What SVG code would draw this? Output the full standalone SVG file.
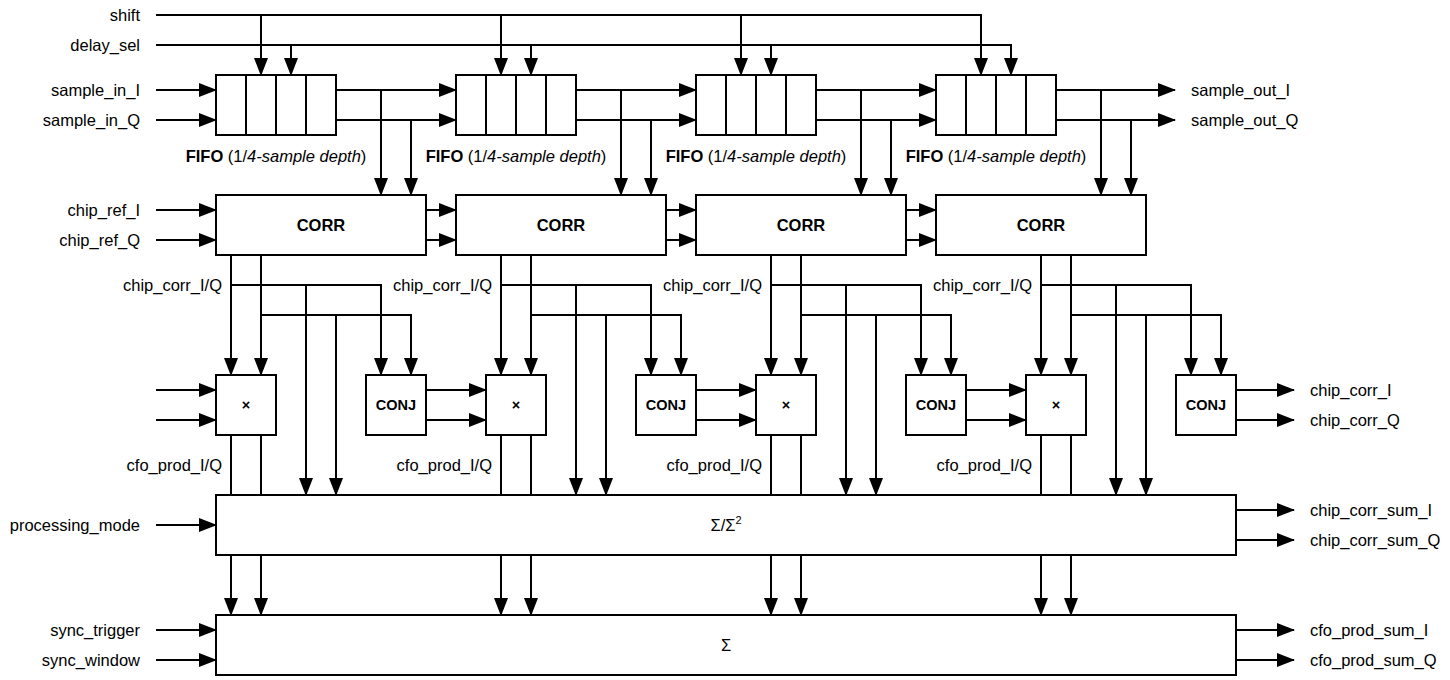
<svg xmlns="http://www.w3.org/2000/svg" width="1450" height="680" viewBox="0 0 1450 680">
<style>
.b{fill:#fff;stroke:#000;stroke-width:2}
.d{stroke:#000;stroke-width:2;fill:none}
.w{stroke:#000;stroke-width:2;fill:none}
.a{marker-end:url(#ah)}
text{font-family:"Liberation Sans",Arial,Helvetica,sans-serif;font-size:16.5px;fill:#000}
.l{text-anchor:end}
.c{text-anchor:middle}
.bd{font-weight:bold}
.sm{font-size:14.5px}
</style>
<defs>
<marker id="ah" viewBox="0 0 18 14" refX="17" refY="7" markerWidth="18" markerHeight="14" markerUnits="userSpaceOnUse" orient="auto"><path d="M0,0 L18,7 L0,14 z" fill="#000"/></marker>
</defs>
<rect width="1450" height="680" fill="#fff"/>

<g id="connectors">
<!-- shift / delay_sel -->
<path class="w a" d="M156,15 H981 V75"/>
<path class="w a" d="M261,15 V75"/><path class="w a" d="M501,15 V75"/><path class="w a" d="M741,15 V75"/>
<path class="w a" d="M156,45 H1011 V75"/>
<path class="w a" d="M291,45 V75"/><path class="w a" d="M531,45 V75"/><path class="w a" d="M771,45 V75"/>
<!-- sample inputs -->
<path class="w a" d="M156,90 H216"/><path class="w a" d="M156,120 H216"/>
<!-- FIFO outputs -->
<path class="w a" d="M336,90 H456"/><path class="w a" d="M336,120 H456"/><path class="w a" d="M381,90 V195"/><path class="w a" d="M411,120 V195"/>
<path class="w a" d="M576,90 H696"/><path class="w a" d="M576,120 H696"/><path class="w a" d="M621,90 V195"/><path class="w a" d="M651,120 V195"/>
<path class="w a" d="M816,90 H936"/><path class="w a" d="M816,120 H936"/><path class="w a" d="M861,90 V195"/><path class="w a" d="M891,120 V195"/>
<path class="w a" d="M1056,90 H1175"/><path class="w a" d="M1056,120 H1175"/><path class="w a" d="M1101,90 V195"/><path class="w a" d="M1131,120 V195"/>
<!-- chip_ref inputs -->
<path class="w a" d="M156,210 H216"/><path class="w a" d="M156,240 H216"/>
<!-- CORR chain -->
<path class="w a" d="M426,210 H456"/><path class="w a" d="M426,240 H456"/>
<path class="w a" d="M666,210 H696"/><path class="w a" d="M666,240 H696"/>
<path class="w a" d="M906,210 H936"/><path class="w a" d="M906,240 H936"/>
<!-- column 1 X=216 -->
<path class="w a" d="M231,255 V375"/><path class="w a" d="M261,255 V375"/>
<path class="w a" d="M231,285 H381 V375"/><path class="w a" d="M261,315 H411 V375"/>
<path class="w a" d="M306,285 V495"/><path class="w a" d="M336,315 V495"/>
<path class="w" d="M231,435 V495"/><path class="w" d="M261,435 V495"/>
<path class="w a" d="M426,390 H486"/><path class="w a" d="M426,420 H486"/>
<!-- column 2 X=486 -->
<path class="w a" d="M501,255 V375"/><path class="w a" d="M531,255 V375"/>
<path class="w a" d="M501,285 H651 V375"/><path class="w a" d="M531,315 H681 V375"/>
<path class="w a" d="M576,285 V495"/><path class="w a" d="M606,315 V495"/>
<path class="w" d="M501,435 V495"/><path class="w" d="M531,435 V495"/>
<path class="w a" d="M696,390 H756"/><path class="w a" d="M696,420 H756"/>
<!-- column 3 X=756 -->
<path class="w a" d="M771,255 V375"/><path class="w a" d="M801,255 V375"/>
<path class="w a" d="M771,285 H921 V375"/><path class="w a" d="M801,315 H951 V375"/>
<path class="w a" d="M846,285 V495"/><path class="w a" d="M876,315 V495"/>
<path class="w" d="M771,435 V495"/><path class="w" d="M801,435 V495"/>
<path class="w a" d="M966,390 H1026"/><path class="w a" d="M966,420 H1026"/>
<!-- column 4 X=1026 -->
<path class="w a" d="M1041,255 V375"/><path class="w a" d="M1071,255 V375"/>
<path class="w a" d="M1041,285 H1191 V375"/><path class="w a" d="M1071,315 H1221 V375"/>
<path class="w a" d="M1116,285 V495"/><path class="w a" d="M1146,315 V495"/>
<path class="w" d="M1041,435 V495"/><path class="w" d="M1071,435 V495"/>
<path class="w a" d="M1236,390 H1294"/><path class="w a" d="M1236,420 H1294"/>
<!-- first multiplier inputs -->
<path class="w a" d="M156,390 H216"/><path class="w a" d="M156,420 H216"/>
<!-- sum/sum^2 -->
<path class="w a" d="M156,525 H216"/>
<path class="w a" d="M1236,510 H1294"/><path class="w a" d="M1236,540 H1294"/>
<path class="w a" d="M231,555 V615"/><path class="w a" d="M261,555 V615"/>
<path class="w a" d="M501,555 V615"/><path class="w a" d="M531,555 V615"/>
<path class="w a" d="M771,555 V615"/><path class="w a" d="M801,555 V615"/>
<path class="w a" d="M1041,555 V615"/><path class="w a" d="M1071,555 V615"/>
<!-- sum -->
<path class="w a" d="M156,630 H216"/><path class="w a" d="M156,660 H216"/>
<path class="w a" d="M1236,630 H1294"/><path class="w a" d="M1236,660 H1294"/>
</g>

<g id="fifo1"><rect class="b" x="216" y="75" width="120" height="60"/><path class="d" d="M246,75 V135 M276,75 V135 M306,75 V135"/>
<text class="c" x="276" y="162"><tspan class="bd">FIFO</tspan> (1/<tspan font-style="italic">4-sample depth</tspan>)</text></g>
<g id="fifo2"><rect class="b" x="456" y="75" width="120" height="60"/><path class="d" d="M486,75 V135 M516,75 V135 M546,75 V135"/>
<text class="c" x="516" y="162"><tspan class="bd">FIFO</tspan> (1/<tspan font-style="italic">4-sample depth</tspan>)</text></g>
<g id="fifo3"><rect class="b" x="696" y="75" width="120" height="60"/><path class="d" d="M726,75 V135 M756,75 V135 M786,75 V135"/>
<text class="c" x="756" y="162"><tspan class="bd">FIFO</tspan> (1/<tspan font-style="italic">4-sample depth</tspan>)</text></g>
<g id="fifo4"><rect class="b" x="936" y="75" width="120" height="60"/><path class="d" d="M966,75 V135 M996,75 V135 M1026,75 V135"/>
<text class="c" x="996" y="162"><tspan class="bd">FIFO</tspan> (1/<tspan font-style="italic">4-sample depth</tspan>)</text></g>

<g id="corr1"><rect class="b" x="216" y="195" width="210" height="60"/><text class="c bd" x="321" y="231">CORR</text></g>
<g id="corr2"><rect class="b" x="456" y="195" width="210" height="60"/><text class="c bd" x="561" y="231">CORR</text></g>
<g id="corr3"><rect class="b" x="696" y="195" width="210" height="60"/><text class="c bd" x="801" y="231">CORR</text></g>
<g id="corr4"><rect class="b" x="936" y="195" width="210" height="60"/><text class="c bd" x="1041" y="231">CORR</text></g>

<g id="mul1"><rect class="b" x="216" y="375" width="60" height="60"/><text class="c bd sm" x="246" y="410">×</text></g>
<g id="mul2"><rect class="b" x="486" y="375" width="60" height="60"/><text class="c bd sm" x="516" y="410">×</text></g>
<g id="mul3"><rect class="b" x="756" y="375" width="60" height="60"/><text class="c bd sm" x="786" y="410">×</text></g>
<g id="mul4"><rect class="b" x="1026" y="375" width="60" height="60"/><text class="c bd sm" x="1056" y="410">×</text></g>

<g id="conj1"><rect class="b" x="366" y="375" width="60" height="60"/><text class="c bd sm" x="396" y="410">CONJ</text></g>
<g id="conj2"><rect class="b" x="636" y="375" width="60" height="60"/><text class="c bd sm" x="666" y="410">CONJ</text></g>
<g id="conj3"><rect class="b" x="906" y="375" width="60" height="60"/><text class="c bd sm" x="936" y="410">CONJ</text></g>
<g id="conj4"><rect class="b" x="1176" y="375" width="60" height="60"/><text class="c bd sm" x="1206" y="410">CONJ</text></g>

<g id="sumsq"><rect class="b" x="216" y="495" width="1020" height="60"/><text class="c" x="726" y="531">Σ/Σ<tspan font-size="11" dy="-7">2</tspan></text></g>
<g id="sum"><rect class="b" x="216" y="615" width="1020" height="60"/><text class="c" x="726" y="651">Σ</text></g>

<g id="labels">
<text class="l" x="140" y="21">shift</text>
<text class="l" x="140" y="51">delay_sel</text>
<text class="l" x="140" y="96">sample_in_I</text>
<text class="l" x="140" y="126">sample_in_Q</text>
<text class="l" x="140" y="216">chip_ref_I</text>
<text class="l" x="140" y="246">chip_ref_Q</text>
<text class="l" x="140" y="531">processing_mode</text>
<text class="l" x="140" y="636">sync_trigger</text>
<text class="l" x="140" y="666">sync_window</text>
<text class="l" x="222" y="291">chip_corr_I/Q</text>
<text class="l" x="492" y="291">chip_corr_I/Q</text>
<text class="l" x="762" y="291">chip_corr_I/Q</text>
<text class="l" x="1032" y="291">chip_corr_I/Q</text>
<text class="l" x="222" y="471">cfo_prod_I/Q</text>
<text class="l" x="492" y="471">cfo_prod_I/Q</text>
<text class="l" x="762" y="471">cfo_prod_I/Q</text>
<text class="l" x="1032" y="471">cfo_prod_I/Q</text>
<text x="1191" y="96">sample_out_I</text>
<text x="1191" y="126">sample_out_Q</text>
<text x="1310" y="396">chip_corr_I</text>
<text x="1310" y="426">chip_corr_Q</text>
<text x="1310" y="516">chip_corr_sum_I</text>
<text x="1310" y="546">chip_corr_sum_Q</text>
<text x="1310" y="636">cfo_prod_sum_I</text>
<text x="1310" y="666">cfo_prod_sum_Q</text>
</g>
</svg>
